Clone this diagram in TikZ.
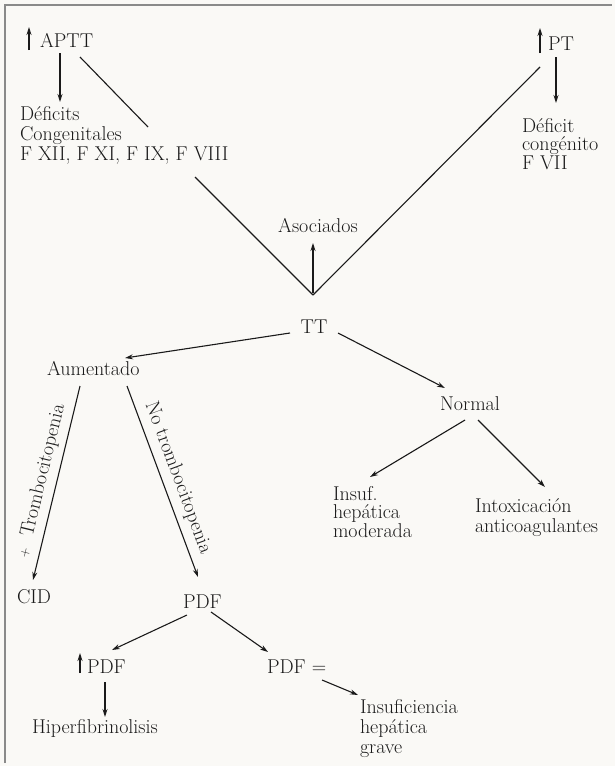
\documentclass[tikz,border=0pt]{standalone}
\usetikzlibrary{arrows.meta}
\definecolor{ink}{HTML}{1A1A1A}
\definecolor{paper}{HTML}{FAF9F6}
\definecolor{frame}{HTML}{8A8A8A}
\begin{document}
\begin{tikzpicture}[x=1pt,y=-1pt,
  every node/.style={inner sep=0pt, outer sep=0pt, text=ink},
  lbl/.style={font=\fontsize{20}{20}\selectfont, anchor=base west},
  blk/.style={font=\fontsize{20}{20}\selectfont, anchor=north west, align=left},
  rot/.style={font=\fontsize{20}{20}\selectfont},
  edge/.style={draw=ink, line width=1.1pt},
  arr/.style={edge, -{Stealth[length=8pt,width=5pt]}},
]
\useasboundingbox[fill=paper] (0,0) rectangle (615,766);
\draw[line width=1.6pt, draw=frame] (5,763) -- (5,5) -- (612,5);

% text nodes
\node[lbl] (aptt) at (40,47) {APTT};
\node[blk] (defl) at (20,106) {Déficits\\Congenitales\\F XII, F XI, F IX, F VIII};
\node[lbl] (pt) at (548,50) {PT};
\node[blk, font=\fontsize{20}{18.5}\selectfont] (defr) at (522,118) {Déficit\\congénito\\F VII};
\node[lbl, anchor=base] (asoc) at (318,232) {Asociados};
\node[lbl, anchor=base] (tt) at (314,333) {TT};
\node[lbl] (aum) at (47,375) {Aumentado};
\node[lbl, anchor=base] (norm) at (470,410) {Normal};
\node[blk, font=\fontsize{20}{18.5}\selectfont] (insm) at (333,486) {Insuf.\\hepática\\moderada};
\node[blk] (intox) at (475,499) {Intoxicación\\anticoagulantes};
\node[lbl] (cid) at (17,603) {CID};
\node[lbl] (pdf) at (183,608) {PDF};
\node[lbl] (pdfup) at (87,673) {PDF};
\node[lbl] (pdfeq) at (267,673) {PDF =};
\node[lbl] (hiper) at (32,733) {Hiperfibrinolisis};
\node[blk] (insg) at (360,699) {Insuficiencia\\hepática\\grave};

\node[rot, rotate=76.4] (tromb) at (41,481) {{\fontsize{13}{13}\selectfont +}\ \ Trombocitopenia};
\node[rot, rotate=-69.6] (notromb) at (178,478) {No trombocitopenia};

% connector end points
\coordinate (apttU1) at (29,50);   \coordinate (apttU2) at (29,27);
\coordinate (apttD1) at (60,53);   \coordinate (apttD2) at (60,102);
\coordinate (apttL1) at (80,57);   \coordinate (apttL2) at (148,127);
\coordinate (apttL3) at (195,177);
\coordinate (vtx) at (313,295);
\coordinate (ptU1) at (540,53);    \coordinate (ptU2) at (540,28);
\coordinate (ptD1) at (556,57);    \coordinate (ptD2) at (556,103);
\coordinate (ptL1) at (540,67);
\coordinate (asocA) at (313,293);  \coordinate (asocB) at (313,243);
\coordinate (ttL) at (290,333);    \coordinate (aumT) at (125,358);
\coordinate (ttR) at (338,333);    \coordinate (normT) at (445,388);
\coordinate (normL) at (465,420);  \coordinate (insmT) at (370,477);
\coordinate (normR) at (478,420);  \coordinate (intoxT) at (545,487);
\coordinate (aumL) at (80,386);    \coordinate (cidT) at (33,580);
\coordinate (aumR) at (127,386);   \coordinate (pdfT) at (198,577);
\coordinate (pdfL) at (187,615);   \coordinate (pdfupT) at (112,650);
\coordinate (pdfR) at (211,612);   \coordinate (pdfeqT) at (268,652);
\coordinate (pdfupA1) at (80,673); \coordinate (pdfupA2) at (80,653);
\coordinate (pdfupB) at (105,682); \coordinate (hiperT) at (105,717);
\coordinate (pdfeqB) at (322,680); \coordinate (insgT) at (358,695);

% connectors
\draw[arr] (apttU1) -- (apttU2);
\draw[arr] (apttD1) -- (apttD2);
\draw[edge] (apttL1) -- (apttL2);
\draw[edge] (apttL3) -- (vtx);
\draw[arr] (ptU1) -- (ptU2);
\draw[arr] (ptD1) -- (ptD2);
\draw[edge] (ptL1) -- (vtx);
\draw[arr] (asocA) -- (asocB);
\draw[arr] (ttL) -- (aumT);
\draw[arr] (ttR) -- (normT);
\draw[arr] (normL) -- (insmT);
\draw[arr] (normR) -- (intoxT);
\draw[arr] (aumL) -- (cidT);
\draw[arr] (aumR) -- (pdfT);
\draw[arr] (pdfL) -- (pdfupT);
\draw[arr] (pdfR) -- (pdfeqT);
\draw[arr] (pdfupA1) -- (pdfupA2);
\draw[arr] (pdfupB) -- (hiperT);
\draw[arr] (pdfeqB) -- (insgT);
\end{tikzpicture}
\end{document}
